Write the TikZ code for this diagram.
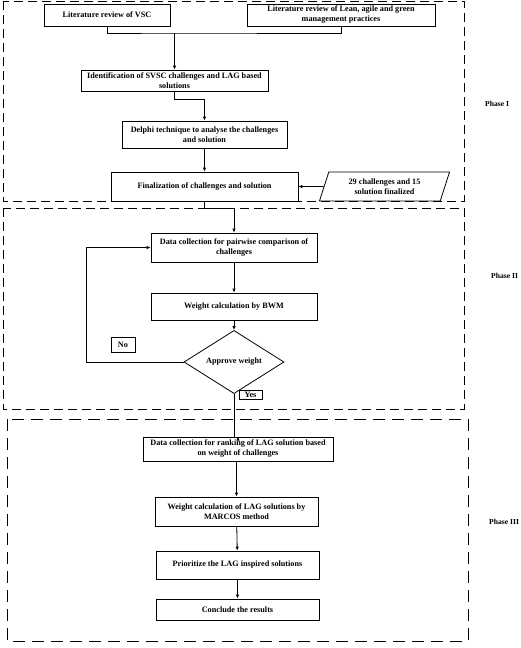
\documentclass[tikz,border=0pt]{standalone}
\usepackage{fontspec}
\setmainfont{Liberation Serif}
\usetikzlibrary{arrows.meta,shapes.geometric}
\begin{document}
\begin{tikzpicture}[x=1pt,y=-1pt,
  txt/.style={font=\bfseries\fontsize{8.2}{10}\selectfont,align=center},
  stepbox/.style={txt,draw,line width=0.8pt,inner sep=0.5pt},
  phase/.style={draw,line width=1pt,dash pattern=on 9pt off 5pt},
  phaselabel/.style={font=\bfseries\fontsize{7.6}{9}\selectfont,anchor=west,inner sep=0pt},
  flow/.style={line width=0.8pt,-{Latex[length=4pt,width=3.5pt]}},
  link/.style={line width=0.8pt}]
\useasboundingbox (0,0) rectangle (520,648);

% phase frames
\draw[phase] (3,1) rectangle (464,201);
\draw[phase] (3,208) rectangle (464,409);
\draw[phase,dash pattern=on 12pt off 7pt] (7,419) rectangle (468,641);

\node[phaselabel] (ph1) at (485,104) {Phase I};
\node[phaselabel] (ph2) at (491,276) {Phase II};
\node[phaselabel] (ph3) at (489,522) {Phase III};

% phase I
\node[stepbox,minimum width=126,minimum height=22] (lit1) at (107,15) {Literature review of VSC};
\node[stepbox,minimum width=188,minimum height=22] (lit2) at (341,15) {Literature review of Lean, agile and green\\management practices};
\node[stepbox,minimum width=187,minimum height=21] (ident) at (174.5,80.5) {Identification of SVSC challenges and LAG based\\solutions};
\node[stepbox,minimum width=165,minimum height=27] (delphi) at (204.5,134.5) {Delphi technique to analyse the challenges\\and solution};
\node[stepbox,minimum width=187,minimum height=29] (final) at (204.5,186.5) {Finalization of challenges and solution};
\node[stepbox,trapezium,trapezium left angle=70,trapezium right angle=110,trapezium stretches=true,
  minimum width=131,minimum height=29] (given) at (384.5,186.5) {29 challenges and 15\\solution finalized};

% phase II
\node[stepbox,minimum width=166,minimum height=29] (pair) at (234,247.5) {Data collection for pairwise comparison of\\challenges};
\node[stepbox,minimum width=166,minimum height=27] (bwm) at (234,306.5) {Weight calculation by BWM};
\node[stepbox,diamond,inner sep=0pt,minimum width=100,minimum height=50] (approve) at (234,362) {Approve weight};
\node[stepbox,minimum width=24,minimum height=15] (no) at (123,344.5) {No};
\node[stepbox,minimum width=23,minimum height=9,inner sep=0pt] (yes) at (250.5,394.5) {Yes};

% phase III
\node[stepbox,minimum width=190,minimum height=24] (rank) at (238,449) {Data collection for ranking of LAG solution based\\on weight of challenges};
\node[stepbox,minimum width=163,minimum height=29] (marcos) at (236.5,511.5) {Weight calculation of LAG solutions by\\MARCOS method};
\node[stepbox,minimum width=163,minimum height=28] (prior) at (237.5,565) {Prioritize the LAG inspired solutions};
\node[stepbox,minimum width=163,minimum height=21] (concl) at (237.5,609.5) {Conclude the results};

% connectors
\coordinate (join) at (174.5,33);
\draw[link] (lit1.south) |- (join) -| (lit2.south);
\draw[flow] (join) -- (ident.north);
\draw[flow] (ident.south) -- ++(0,8) -| (delphi.north);
\draw[flow] (delphi) -- (final);
\draw[flow] (given) -- (final);
\draw[flow] (final.south) -- ++(0,7) -| (pair.north);
\draw[flow] (pair) -- (bwm);
\draw[flow] (bwm) -- (approve);
\draw[flow] (approve.west) -- ++(-97,0) |- (pair.west);
\draw[flow] (approve.south) -- ++(0,43) -| (rank.north);
\draw[flow] (rank.south -| marcos.north) -- (marcos.north);
\draw[flow] (marcos) -- (prior);
\draw[flow] (prior) -- (concl);
\end{tikzpicture}
\end{document}
